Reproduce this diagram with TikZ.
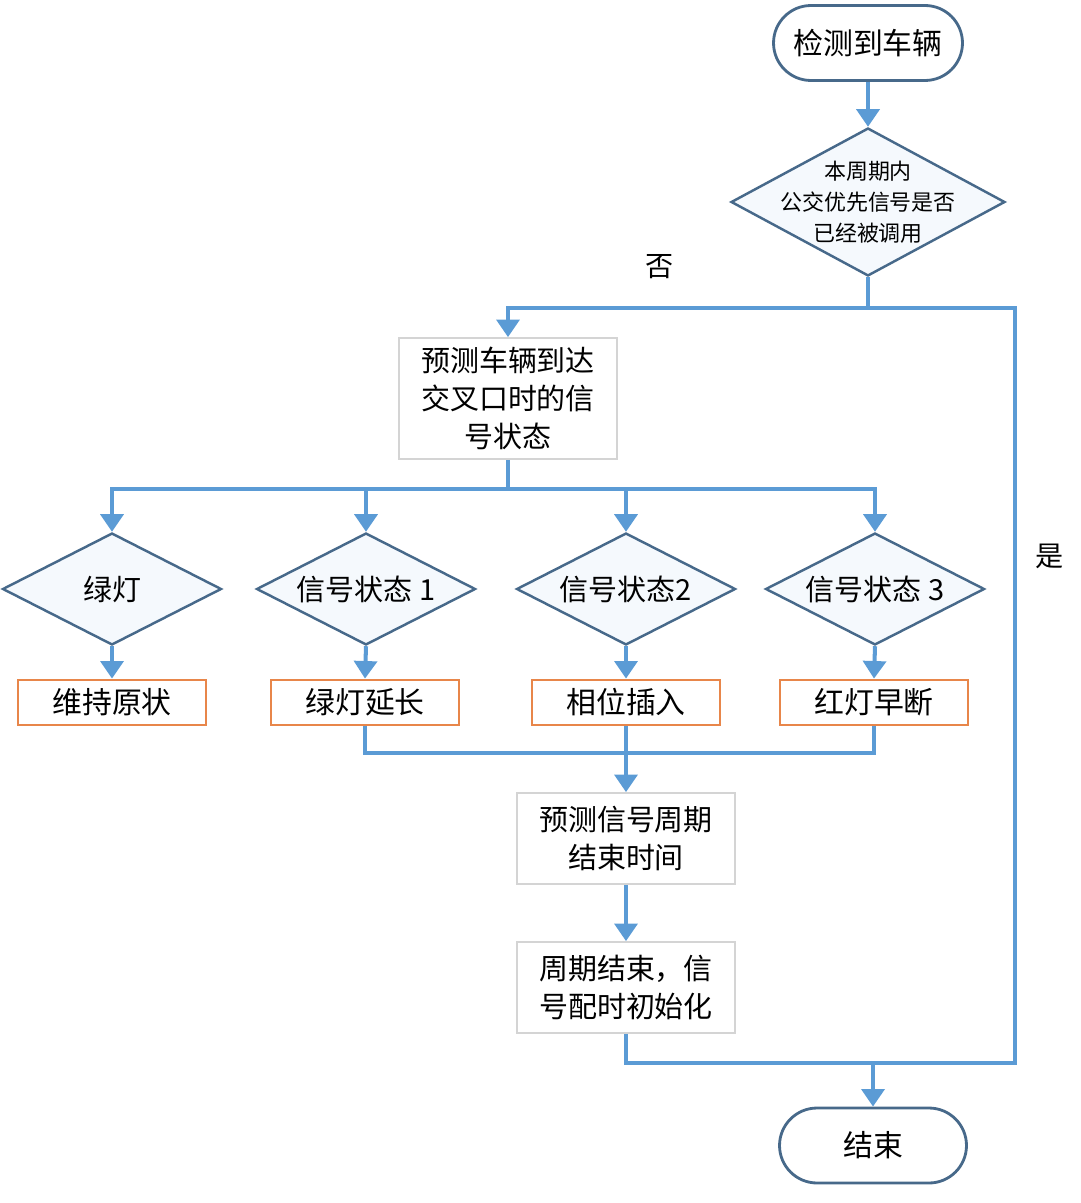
\documentclass[tikz,border=0pt]{standalone}
\usepackage{fontspec}
\setmainfont{Noto Sans CJK SC}
\usetikzlibrary{shapes.geometric,arrows.meta}
\definecolor{lineblue}{HTML}{5B9BD5}
\definecolor{edgeblue}{HTML}{47698A}
\definecolor{paleblue}{HTML}{F5F9FD}
\definecolor{boxgray}{HTML}{D4D4D4}
\definecolor{orangeb}{HTML}{E8864A}
\begin{document}
\begin{tikzpicture}[x=0.02cm,y=-0.02cm,
  ln/.style={draw=lineblue,line width=2.3pt},
  arr/.style={ln,-{Triangle[width=13pt,length=10pt]}},
  term/.style={draw=edgeblue,line width=1.6pt,fill=white,rounded corners=0.75cm,
    minimum width=3.78cm,minimum height=1.5cm,inner sep=0pt,font=\fontsize{17}{21}\selectfont},
  dec/.style={diamond,draw=edgeblue,line width=1.4pt,fill=paleblue,inner sep=0pt,aspect=2},
  dlab/.style={font=\fontsize{16.5}{20}\selectfont},
  gbox/.style={draw=boxgray,line width=1pt,fill=white,align=center,inner sep=0pt,
    minimum width=4.36cm,font=\fontsize{16.5}{21.5}\selectfont},
  obox/.style={draw=orangeb,line width=1.6pt,fill=white,inner sep=0pt,
    minimum width=3.76cm,minimum height=0.9cm,font=\fontsize{17}{21}\selectfont},
  lab/.style={font=\fontsize{16}{20}\selectfont}]
\useasboundingbox (0,0) rectangle (1080,1203);
% nodes
\node[term] (start) at (868,43) {检测到车辆};
\node[dec,minimum width=5.48cm,minimum height=2.96cm,
  label={[align=center,font=\fontsize{12.5}{17.5}\selectfont]center:本周期内\\公交优先信号是否\\已经被调用}] (d0) at (868,202) {};
\node[gbox,minimum height=2.42cm] (pred) at (508,398.5) {预测车辆到达\\交叉口时的信\\号状态};
\node[dec,minimum width=4.38cm,minimum height=2.24cm,label={[dlab]center:绿灯}] (dA) at (112,589) {};
\node[dec,minimum width=4.38cm,minimum height=2.24cm,label={[dlab]center:信号状态 1}] (dB) at (366,589) {};
\node[dec,minimum width=4.38cm,minimum height=2.24cm,label={[dlab]center:信号状态2}] (dC) at (626,589) {};
\node[dec,minimum width=4.38cm,minimum height=2.24cm,label={[dlab]center:信号状态 3}] (dD) at (875,589) {};
\node[obox] (oA) at (112,702.5) {维持原状};
\node[obox] (oB) at (365,702.5) {绿灯延长};
\node[obox] (oC) at (626,702.5) {相位插入};
\node[obox] (oD) at (874,702.5) {红灯早断};
\node[gbox,minimum height=1.82cm] (b5) at (626,838.5) {预测信号周期\\结束时间};
\node[gbox,minimum height=1.82cm] (b6) at (626,987.5) {周期结束，信\\号配时初始化};
\node[term,minimum width=3.74cm] (end) at (873,1145.5) {结束};
\node[lab] (no) at (660,267) {否};
\node[lab] (yes) at (1050,556) {是};
% junctions
\coordinate (j1) at (868,308);
\coordinate (jRB) at (1015,1063);
\coordinate (jB) at (873,1063);
\coordinate (jP) at (508,489);
\coordinate (jM) at (626,753);
% connectors
\draw[arr] (start.south) -- (d0.north);
\draw[arr] (d0.south) -- (j1) -| (pred.north);
\draw[ln] (j1) -| (jRB) -- (jB);
\draw[ln] (b6.south) |- (jB);
\draw[arr] (jB) -- (end.north);
\draw[ln] (pred.south) -- (jP);
\draw[arr] (jP) -| (dA.north);
\draw[arr] (jP) -| (dB.north);
\draw[arr] (jP) -| (dC.north);
\draw[arr] (jP) -| (dD.north);
\draw[arr] (dA.south) -- (oA.north);
\draw[arr] (dB.south) -- (oB.north);
\draw[arr] (dC.south) -- (oC.north);
\draw[arr] (dD.south) -- (oD.north);
\draw[ln] (oB.south) |- (jM);
\draw[ln] (oD.south) |- (jM);
\draw[arr] (oC.south) -- (b5.north);
\draw[arr] (b5.south) -- (b6.north);
\end{tikzpicture}
\end{document}
